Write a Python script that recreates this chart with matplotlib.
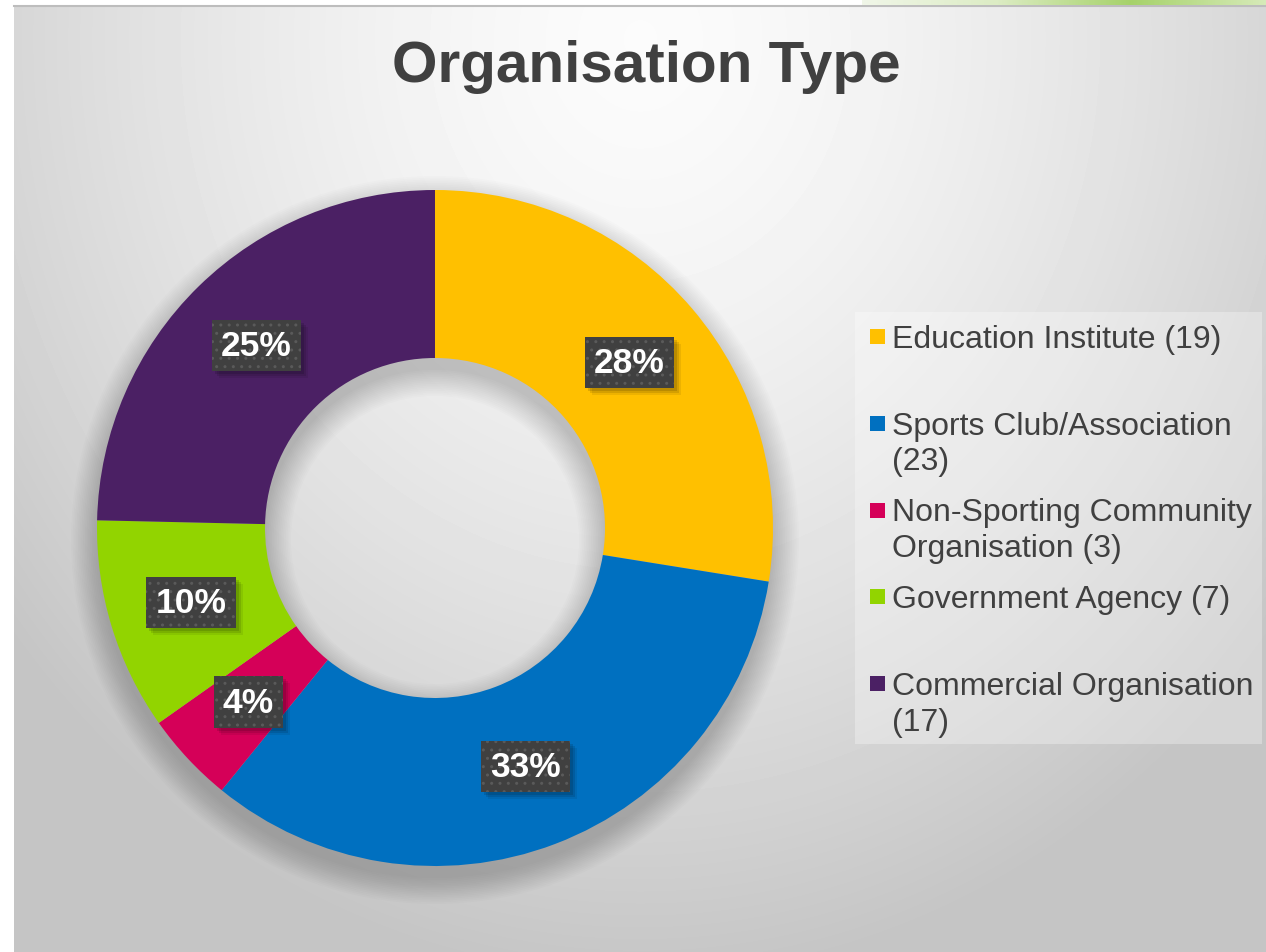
import matplotlib.pyplot as plt
import numpy as np
from matplotlib.patches import Rectangle, Wedge
from matplotlib.transforms import IdentityTransform
from matplotlib.colors import LinearSegmentedColormap

plt.rcParams['font.family'] = ['Liberation Sans', 'DejaVu Sans']

# data
categories = ['Education Institute', 'Sports Club/Association',
              'Non-Sporting Community Organisation', 'Government Agency',
              'Commercial Organisation']
counts = [19, 23, 3, 7, 17]
legend_labels = ['Education Institute (19)', 'Sports Club/Association\n(23)',
                 'Non-Sporting Community\nOrganisation (3)', 'Government Agency (7)',
                 'Commercial Organisation\n(17)']
colors = ['#FFC000', '#0070C0', '#D50058', '#92D400', '#4B2064']

W, H = 1266, 953
fig = plt.figure(figsize=(W / 100, H / 100), dpi=100)

# background axes in pixel coords
bg = fig.add_axes([0, 0, 1, 1])
bg.set_xlim(0, W)
bg.set_ylim(H, 0)
bg.axis('off')

yy, xx = np.mgrid[7:953, 14:1266].astype(float)
d = np.sqrt(((xx - 640) / 780) ** 2 + ((yy - 40) / 900) ** 2)
v = 0.985 - 0.2 * np.minimum(d, 1.05) ** 1.5
bg.imshow(v, cmap='gray', vmin=0, vmax=1, extent=(14, 1266, 953, 7),
          aspect='auto', interpolation='bilinear', zorder=0)
bg.plot([14, 1266], [6.5, 6.5], color='#bdbdbd', lw=1.5, zorder=1)

# green strip top right
green = LinearSegmentedColormap.from_list('g', ['#f0f6e8', '#dcecc4', '#a6d26a', '#d6eab8'])
strip = np.linspace(0, 1, 400)[None, :]
bg.imshow(strip, cmap=green, extent=(862, 1266, 5.5, 0), aspect='auto', zorder=1)

# title
bg.text(646, 82, 'Organisation Type', ha='center', va='baseline',
        fontsize=42, fontweight='bold', color='#404040')

# legend
bg.add_patch(Rectangle((855, 313), 407, 432, facecolor='white', alpha=0.3,
                       edgecolor='none', zorder=2))
for i, (lab, col) in enumerate(zip(legend_labels, colors)):
    base = 348 + i * 86.75
    bg.add_patch(Rectangle((870, base - 18), 15, 15, facecolor=col,
                           edgecolor='none', zorder=3))
    bg.text(892, base - 23, lab, ha='left', va='top', fontsize=23,
            color='#404040', linespacing=1.25, zorder=3)

# donut axes
cx, cy, R = 435, 529, 338
ax = fig.add_axes([(cx - R) / W, (H - cy - R) / H, 2 * R / W, 2 * R / H])
ax.patch.set_alpha(0)
rin = 170 / R

# soft shadow
off = 12 / R
for s in np.linspace(0, 26 / R, 16):
    ax.add_patch(Wedge((0, -off), 1 + s, 0, 360, width=1 + 2 * s - rin,
                       facecolor='black', alpha=0.011, edgecolor='none',
                       clip_on=False, zorder=0))

wedges, texts, autotexts = ax.pie(
    counts, colors=colors, startangle=90, counterclock=False, radius=1,
    wedgeprops=dict(width=1 - rin, edgecolor='none'),
    autopct='%.0f%%', pctdistance=0.755,
    textprops=dict(color='white', fontsize=25.5, fontweight='bold'))
for w in wedges:
    w.set_zorder(2)

for t in autotexts:
    t.set_zorder(5)
    t.set_bbox(dict(boxstyle='square,pad=0.26', facecolor='#404040',
                    edgecolor='#5a5a5a', linewidth=0, hatch='..'))

ax.set_xlim(-1, 1)
ax.set_ylim(-1, 1)
ax.axis('off')

# drop shadows behind the label boxes, in display pixels
fig.canvas.draw()
for t in autotexts:
    ext = t.get_bbox_patch().get_window_extent()
    for k, a in [(3, 0.12), (5, 0.1), (7, 0.07)]:
        ax.add_patch(Rectangle((ext.x0 + k, ext.y0 - k), ext.width, ext.height,
                               transform=IdentityTransform(), facecolor='black',
                               alpha=a, edgecolor='none', zorder=4,
                               clip_on=False))

fig.savefig('out.png', dpi=100)
